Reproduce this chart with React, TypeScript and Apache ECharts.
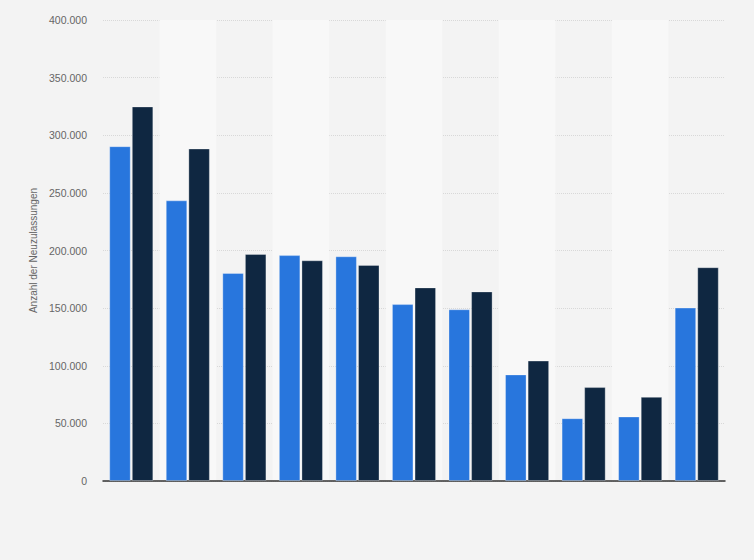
import { FC, useEffect, useRef } from "react";
import * as echarts from "echarts";

// Kategorien (keine Beschriftung sichtbar)
const categories = ["1", "2", "3", "4", "5", "6", "7", "8", "9", "10", "11"];
// Neuzulassungen, erste Reihe (blau)
const seriesA = [290500, 243500, 180500, 196000, 195000, 153500, 149000, 92500, 54500, 56000, 150500];
// Neuzulassungen, zweite Reihe (dunkelblau)
const seriesB = [325000, 288500, 197000, 191500, 187500, 168000, 164500, 104500, 81500, 73000, 185500];
const yTicks = { min: 0, max: 400000, interval: 50000 };

const fmt = (v: number) => v.toLocaleString("de-DE");

const App: FC = () => {
    const chartRef = useRef<HTMLDivElement>(null);

    useEffect(() => {
        if (!chartRef.current) return;
        const chart = echarts.init(chartRef.current, undefined, { renderer: "svg" });
        const barBorder = { borderColor: "rgba(255,255,255,0.3)", borderWidth: 1 };
        chart.setOption({
            animation: false,
            backgroundColor: "#f3f3f3",
            textStyle: { fontFamily: "Liberation Sans, Arial, sans-serif" },
            grid: { left: 103, right: 29, top: 20, bottom: 79 },
            xAxis: {
                type: "category",
                data: categories,
                axisLabel: { show: false },
                axisTick: { show: false },
                axisLine: { lineStyle: { color: "#333", width: 1.5 } },
                splitArea: { show: true, areaStyle: { color: ["rgba(0,0,0,0)", "#f8f8f8"] } },
            },
            yAxis: {
                type: "value",
                min: yTicks.min,
                max: yTicks.max,
                interval: yTicks.interval,
                name: "Anzahl der Neuzulassungen",
                nameLocation: "middle",
                nameGap: 62,
                nameTextStyle: { color: "#666", fontSize: 10 },
                axisLabel: { color: "#666", fontSize: 10.5, margin: 16, formatter: (v: number) => fmt(v) },
                axisLine: { show: false },
                axisTick: { show: false },
                splitLine: { lineStyle: { color: "#d8d8d8", type: "dotted", width: 1 } },
            },
            series: [
                {
                    type: "bar",
                    data: seriesA,
                    barGap: "5%",
                    barCategoryGap: "22%",
                    itemStyle: { color: "#2876dd", ...barBorder },
                },
                {
                    type: "bar",
                    data: seriesB,
                    itemStyle: { color: "#0f2741", ...barBorder },
                },
            ],
        });
        return () => chart.dispose();
    }, []);

    return <div ref={chartRef} style={{ position: "fixed", left: 0, top: 0, width: 754, height: 560 }} />;
};

export default App;
